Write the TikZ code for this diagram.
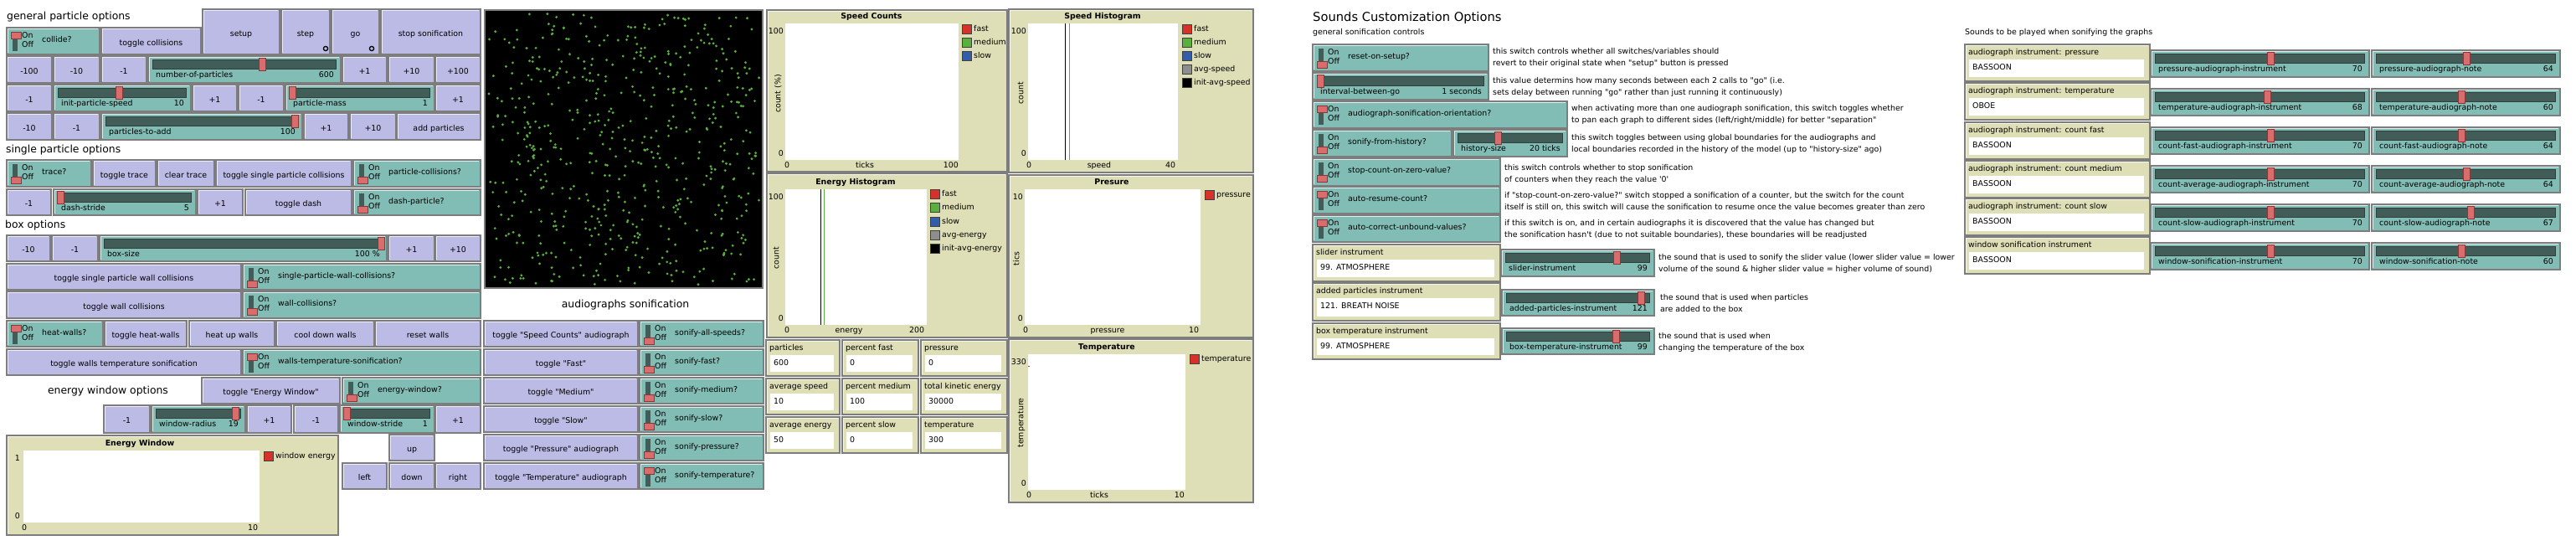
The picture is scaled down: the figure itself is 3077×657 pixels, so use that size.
\documentclass[tikz,border=0pt]{standalone}
\usepackage{fontspec}
\newfontfamily\nlfont{DejaVu Sans}

\definecolor{nlbutton}{RGB}{187,187,230}
\definecolor{nlswitch}{RGB}{130,189,181}
\definecolor{nltrack}{RGB}{66,92,88}
\definecolor{nlknob}{RGB}{217,108,108}
\definecolor{nlknobedge}{RGB}{140,55,55}
\definecolor{nlmonitor}{RGB}{223,223,183}
\definecolor{nledge}{RGB}{125,125,125}
\definecolor{nlgreen}{RGB}{89,176,60}
\definecolor{nlred}{RGB}{215,50,41}
\definecolor{nlblue}{RGB}{52,93,169}
\definecolor{nlgray}{RGB}{141,141,141}

\tikzset{
  widget/.style={rectangle, draw=nledge, line width=1.2pt, inner sep=0pt},
  nlbtn/.style={widget, fill=nlbutton},
  nlsw/.style={widget, fill=nlswitch},
  nlmon/.style={widget, fill=nlmonitor},
  nlbevel/.style={white, opacity=0.75, line width=0.9pt},
  nltext/.style={font=\nlfont\fontsize{9.4}{11}\selectfont, inner sep=0pt, text height=6.8pt, text depth=1.9pt},
  nltitle/.style={nltext, font=\nlfont\bfseries\fontsize{9.4}{11}\selectfont},
  nlsection/.style={font=\nlfont\fontsize{12.4}{14}\selectfont, inner sep=0pt},
  nlbig/.style={font=\nlfont\fontsize{14.7}{17}\selectfont, inner sep=0pt},
  knob/.style={fill=nlknob, draw=nlknobedge, line width=0.7pt},
  track/.style={fill=nltrack, draw=nltrack!70!black, line width=0.7pt},
  particle/.style={fill=nlgreen}
}

% widgets: name, x0, y0, x1, y1, ...
\newcommand{\nlframe}[6]{%
  \node[#2, minimum width={(#5-#3)*1pt}, minimum height={(#6-#4)*1pt}] (#1) at ({(#3+#5)/2},{(#4+#6)/2}) {};
  \draw[nlbevel] (#3+1.6,#6-1.6) -- (#3+1.6,#4+1.6) -- (#5-1.6,#4+1.6);}

\newcommand{\nlbutton}[6]{%
  \nlframe{#1}{nlbtn}{#2}{#3}{#4}{#5}
  \node[nltext] (#1-lbl) at ([yshift=-3pt]#1.center) {#6};}

\newcommand{\nlswitch}[7]{%
  \nlframe{#1}{nlsw}{#2}{#3}{#4}{#5}
  \fill[nltrack] (#2+7,#3+5) rectangle (#2+13,#3+28);
  \ifnum#7=1
    \draw[knob] (#2+5,#3+5) rectangle (#2+17,#3+13);
  \else
    \draw[knob] (#2+5,#3+20) rectangle (#2+17,#3+28);
  \fi
  \node[nltext, anchor=west] (#1-on) at (#2+18,#3+10) {On};
  \node[nltext, anchor=west] (#1-off) at (#2+18,#3+21) {Off};
  \node[nltext, anchor=west] (#1-lbl) at (#2+42,#3+15) {#6};}

\newcommand{\nlslider}[8]{%
  \nlframe{#1}{nlsw}{#2}{#3}{#4}{#5}
  \draw[track] (#2+5,#3+4) rectangle (#4-6,#3+15);
  \draw[knob] (#8-4,#3+2) rectangle (#8+4,#3+17);
  \node[nltext, anchor=west] (#1-lbl) at (#2+9,#3+23) {#6};
  \node[nltext, anchor=east] (#1-val) at (#4-8,#3+23) {#7};}

\newcommand{\nlmonitor}[7]{%
  \nlframe{#1}{nlmon}{#2}{#3}{#4}{#5}
  \fill[white] (#2+5,#3+18) rectangle (#4-7,#5-5);
  \node[nltext, anchor=west] (#1-lbl) at (#2+4,#3+10) {#6};
  \node[nltext, anchor=west] (#1-val) at (#2+9,#3+28) {#7};}

\newcommand{\nlplot}[9]{%
  \nlframe{#1}{nlmon}{#2}{#3}{#4}{#5}
  \fill[white] (#6,#7) rectangle (#8,#9);}

\newcommand{\nlkey}[5]{%
  \draw[fill=#4, draw=black!75, line width=0.8pt] (#2,#3-5.5) rectangle (#2+11,#3+5.5);
  \node[nltext, anchor=west] (#1) at (#2+14,#3) {#5};}

\newcommand{\nlnote}[5]{%
  \node[nltext, anchor=west] (#1a) at (#2,#3) {#4};
  \node[nltext, anchor=west] (#1b) at (#2,#3+14) {#5};}

\begin{document}
\begin{tikzpicture}[x=1pt, y=-1pt]
\useasboundingbox (0,0) rectangle (3077,657);

% General particle options
\node[nlsection, anchor=west] (secgen) at (8,20) {general particle options};
\nlswitch{collide}{8}{33}{119}{65}{collide?}{1}
\nlbutton{togcol}{121}{33}{240}{65}{toggle collisions}
\nlbutton{setup}{242}{11}{334}{65}{setup}
\nlbutton{step}{336}{11}{394}{65}{step}
\nlbutton{go}{396}{11}{453}{65}{go}
\nlbutton{stopson}{455}{11}{574}{65}{stop sonification}
\draw[line width=1.3pt] (389,58) circle (2.6pt);
\draw[line width=1.3pt] (444,58) circle (2.6pt);

\nlbutton{npm100}{8}{67}{62}{99}{-100}
\nlbutton{npm10}{64}{67}{119}{99}{-10}
\nlbutton{npm1}{121}{67}{175}{99}{-1}
\nlslider{numpart}{177}{67}{407}{99}{number-of-particles}{600}{313}
\nlbutton{npp1}{409}{67}{462}{99}{+1}
\nlbutton{npp10}{464}{67}{519}{99}{+10}
\nlbutton{npp100}{520}{67}{574}{99}{+100}

\nlbutton{spm1}{8}{101}{62}{133}{-1}
\nlslider{initspeed}{64}{101}{228}{133}{init-particle-speed}{10}{142}
\nlbutton{spp1}{230}{101}{283}{133}{+1}
\nlbutton{pmm1}{285}{101}{339}{133}{-1}
\nlslider{pmass}{341}{101}{519}{133}{particle-mass}{1}{349}
\nlbutton{pmp1}{520}{101}{574}{133}{+1}

\nlbutton{pam10}{8}{135}{62}{167}{-10}
\nlbutton{pam1}{64}{135}{119}{167}{-1}
\nlslider{partadd}{121}{135}{361}{167}{particles-to-add}{100}{352}
\nlbutton{pap1}{363}{135}{416}{167}{+1}
\nlbutton{pap10}{418}{135}{473}{167}{+10}
\nlbutton{addpart}{474}{135}{574}{167}{add particles}

% Single particle options
\node[nlsection, anchor=west] (secsingle) at (7,179) {single particle options};
\nlswitch{trace}{8}{191}{109}{223}{trace?}{0}
\nlbutton{togtrace}{111}{191}{186}{223}{toggle trace}
\nlbutton{cleartrace}{188}{191}{256}{223}{clear trace}
\nlbutton{togspcol}{258}{191}{420}{223}{toggle single particle collisions}
\nlswitch{pcol}{422}{191}{574}{223}{particle-collisions?}{0}

\nlbutton{dsm1}{8}{226}{61}{257}{-1}
\nlslider{dstride}{64}{226}{234}{257}{dash-stride}{5}{72}
\nlbutton{dsp1}{236}{226}{290}{257}{+1}
\nlbutton{togdash}{293}{226}{420}{257}{toggle dash}
\nlswitch{dashp}{422}{226}{574}{257}{dash-particle?}{0}

% Box options
\node[nlsection, anchor=west] (secbox) at (6,269) {box options};
\nlbutton{bsm10}{8}{281}{60}{312}{-10}
\nlbutton{bsm1}{62}{281}{117}{312}{-1}
\nlslider{boxsize}{119}{281}{462}{312}{box-size}{100 \%}{455}
\nlbutton{bsp1}{464}{281}{519}{312}{+1}
\nlbutton{bsp10}{520}{281}{574}{312}{+10}

\nlbutton{togspw}{8}{315}{288}{346}{toggle single particle wall collisions}
\nlswitch{spwall}{290}{315}{574}{346}{single-particle-wall-collisions?}{0}
\nlbutton{togwall}{8}{348}{288}{380}{toggle wall collisions}
\nlswitch{wall}{290}{348}{574}{380}{wall-collisions?}{0}

\nlswitch{heat}{8}{383}{123}{414}{heat-walls?}{1}
\nlbutton{togheat}{125}{383}{223}{414}{toggle heat-walls}
\nlbutton{heatup}{226}{383}{328}{414}{heat up walls}
\nlbutton{cooldown}{330}{383}{447}{414}{cool down walls}
\nlbutton{resetw}{448}{383}{574}{414}{reset walls}

\nlbutton{togwts}{8}{417}{288}{448}{toggle walls temperature sonification}
\nlswitch{wts}{290}{417}{574}{448}{walls-temperature-sonification?}{1}

% Energy window options
\node[nlsection] (secwin) at (129,467) {energy window options};
\nlbutton{togwin}{241}{451}{406}{482}{toggle "Energy Window"}
\nlswitch{ewin}{409}{451}{574}{482}{energy-window?}{0}
\nlbutton{wrm1}{124}{484}{179}{517}{-1}
\nlslider{wradius}{181}{484}{293}{517}{window-radius}{19}{281}
\nlbutton{wrp1}{295}{484}{348}{517}{+1}
\nlbutton{wsm1}{351}{484}{404}{517}{-1}
\nlslider{wstride}{406}{484}{519}{517}{window-stride}{1}{414}
\nlbutton{wsp1}{520}{484}{574}{517}{+1}
\nlbutton{wup}{465}{519}{519}{550}{up}
\nlbutton{wleft}{409}{553}{462}{584}{left}
\nlbutton{wdown}{465}{553}{519}{584}{down}
\nlbutton{wright}{520}{553}{574}{584}{right}

\nlplot{ewplot}{8}{520}{404}{639}{28}{538}{310}{624}
\node[nltitle] (ewtitle) at (167,530) {Energy Window};
\node[nltext, anchor=east] (ewy1) at (24,548) {1};
\node[nltext, anchor=east] (ewy0) at (24,617) {0};
\node[nltext] (ewx0) at (29,631) {0};
\node[nltext] (ewx1) at (302,631) {10};
\nlkey{ewkey}{315}{545}{nlred}{window energy}

% World view
\draw[draw=nledge, line width=2pt, fill=black] (579,12) rectangle (911,344);
\pgfmathsetseed{2024}
\foreach \k in {1,...,600}{
  \pgfmathsetmacro{\px}{583+324*rnd}
  \pgfmathsetmacro{\py}{16+324*rnd}
  \fill[particle] (\px,\py) circle (1.6pt);
}

% Audiographs sonification
\node[nlsection] (secaudio) at (747,364) {audiographs sonification};
\foreach \y/\t/\s/\o in {383/toggle "Speed Counts" audiograph/sonify-all-speeds?/0,
    417/toggle "Fast"/sonify-fast?/0, 451/toggle "Medium"/sonify-medium?/0,
    485/toggle "Slow"/sonify-slow?/0, 519/toggle "Pressure" audiograph/sonify-pressure?/0,
    553/toggle "Temperature" audiograph/sonify-temperature?/1}{
  \nlbutton{ab\y}{578}{\y}{762}{\y+31}{\t}
  \nlswitch{as\y}{764}{\y}{912}{\y+31}{\s}{\o}
}

% Plots
\nlplot{scplot}{916}{12}{1203}{205}{938}{28}{1145}{191}
\node[nltitle] (sctitle) at (1041,20) {Speed Counts};
\node[nltext, anchor=east] (scy1) at (936,38) {100};
\node[nltext, anchor=east] (scy0) at (936,184) {0};
\node[nltext, rotate=90] (scylab) at (930,112) {count (\%)};
\node[nltext] (scx0) at (940,198) {0};
\node[nltext] (scxlab) at (1033,198) {ticks};
\node[nltext, anchor=east] (scx1) at (1145,198) {100};
\nlkey{sck1}{1149}{35}{nlred}{fast}
\nlkey{sck2}{1149}{51}{nlgreen}{medium}
\nlkey{sck3}{1149}{67}{nlblue}{slow}

\nlplot{ehplot}{916}{207}{1203}{403}{938}{226}{1107}{388}
\node[nltitle] (ehtitle) at (1022,218) {Energy Histogram};
\node[nltext, anchor=east] (ehy1) at (936,236) {100};
\node[nltext, anchor=east] (ehy0) at (936,381) {0};
\node[nltext, rotate=90] (ehylab) at (928,308) {count};
\node[nltext] (ehx0) at (940,395) {0};
\node[nltext] (ehxlab) at (1014,395) {energy};
\node[nltext] (ehx1) at (1095,395) {200};
\draw[black, line width=0.8pt] (980,226) -- (980,388);
\draw[nlgreen, line width=0.8pt] (984,226) -- (984,388);
\nlkey{ehk1}{1111}{232}{nlred}{fast}
\nlkey{ehk2}{1111}{248}{nlgreen}{medium}
\nlkey{ehk3}{1111}{265}{nlblue}{slow}
\nlkey{ehk4}{1111}{281}{nlgray}{avg-energy}
\nlkey{ehk5}{1111}{297}{black}{init-avg-energy}

\nlplot{shplot}{1205}{11}{1497}{206}{1228}{28}{1407}{191}
\node[nltitle] (shtitle) at (1317,20) {Speed Histogram};
\node[nltext, anchor=east] (shy1) at (1226,38) {100};
\node[nltext, anchor=east] (shy0) at (1226,184) {0};
\node[nltext, rotate=90] (shylab) at (1220,111) {count};
\node[nltext] (shx0) at (1229,198) {0};
\node[nltext] (shxlab) at (1313,198) {speed};
\node[nltext] (shx1) at (1398,198) {40};
\draw[black, line width=0.8pt] (1272,28) -- (1272,191);
\draw[nlgreen, line width=0.8pt] (1277,28) -- (1277,191);
\nlkey{shk1}{1412}{35}{nlred}{fast}
\nlkey{shk2}{1412}{51}{nlgreen}{medium}
\nlkey{shk3}{1412}{67}{nlblue}{slow}
\nlkey{shk4}{1412}{83}{nlgray}{avg-speed}
\nlkey{shk5}{1412}{99}{black}{init-avg-speed}

\nlplot{prplot}{1205}{209}{1497}{403}{1224}{226}{1434}{388}
\node[nltitle] (prtitle) at (1328,218) {Presure};
\node[nltext, anchor=east] (pry1) at (1222,236) {10};
\node[nltext, anchor=east] (pry0) at (1222,381) {0};
\node[nltext, rotate=90] (prylab) at (1215,309) {tics};
\node[nltext] (prx0) at (1225,395) {0};
\node[nltext] (prxlab) at (1323,395) {pressure};
\node[nltext] (prx1) at (1426,395) {10};
\nlkey{prk1}{1439}{233}{nlred}{pressure}

\nlplot{tpplot}{1205}{405}{1497}{600}{1228}{423}{1416}{585}
\node[nltitle] (tptitle) at (1322,415) {Temperature};
\node[nltext, anchor=east] (tpy1) at (1226,433) {330};
\node[nltext, anchor=east] (tpy0) at (1226,578) {0};
\node[nltext, rotate=90] (tpylab) at (1220,505) {temperature};
\node[nltext] (tpx0) at (1229,592) {0};
\node[nltext] (tpxlab) at (1313,592) {ticks};
\node[nltext, anchor=east] (tpx1) at (1415,592) {10};
\fill[nlred] (1228,436.5) rectangle (1230,438);
\nlkey{tpk1}{1421}{429}{nlred}{temperature}

% Monitors
\nlmonitor{mpart}{915}{406}{1003}{449}{particles}{600}
\nlmonitor{mspeed}{915}{452}{1003}{495}{average speed}{10}
\nlmonitor{menergy}{915}{498}{1003}{541}{average energy}{50}
\nlmonitor{mfast}{1006}{406}{1097}{449}{percent fast}{0}
\nlmonitor{mmed}{1006}{452}{1097}{495}{percent medium}{100}
\nlmonitor{mslow}{1006}{498}{1097}{541}{percent slow}{0}
\nlmonitor{mpress}{1100}{406}{1203}{449}{pressure}{0}
\nlmonitor{mke}{1100}{452}{1203}{495}{total kinetic energy}{30000}
\nlmonitor{mtemp}{1100}{498}{1203}{541}{temperature}{300}

% Sounds customization options
\node[nlbig, anchor=west] (sndtitle) at (1568,21) {Sounds Customization Options};
\node[nltext, anchor=west] (sndsub) at (1568,39) {general sonification controls};
\nlswitch{reset}{1568}{53}{1778}{85}{reset-on-setup?}{0}
\nlslider{interval}{1568}{87}{1778}{119}{interval-between-go}{1 seconds}{1577}
\nlswitch{orient}{1568}{121}{1872}{153}{audiograph-sonification-orientation?}{1}
\nlswitch{fromhist}{1568}{155}{1734}{187}{sonify-from-history?}{0}
\nlslider{histsize}{1736}{155}{1872}{187}{history-size}{20 ticks}{1789}
\nlswitch{stopzero}{1568}{189}{1792}{222}{stop-count-on-zero-value?}{0}
\nlswitch{autoresume}{1568}{223}{1792}{255}{auto-resume-count?}{1}
\nlswitch{autocorrect}{1568}{257}{1792}{289}{auto-correct-unbound-values?}{1}
\nlmonitor{slinst}{1568}{292}{1792}{336}{slider instrument}{99. ATMOSPHERE}
\nlslider{slinstsl}{1793}{298}{1976}{330}{slider-instrument}{99}{1931}
\nlmonitor{apinst}{1568}{338}{1792}{383}{added particles instrument}{121. BREATH NOISE}
\nlslider{apinstsl}{1794}{346}{1976}{377}{added-particles-instrument}{121}{1960}
\nlmonitor{btinst}{1568}{386}{1792}{429}{box temperature instrument}{99. ATMOSPHERE}
\nlslider{btinstsl}{1794}{392}{1976}{423}{box-temperature-instrument}{99}{1930}

\nlnote{n1}{1783}{62}{this switch controls whether all switches/variables should}{revert to their original state when "setup" button is pressed}
\nlnote{n2}{1783}{97}{this value determins how many seconds between each 2 calls to "go" (i.e.}{sets delay between running "go" rather than just running it continuously)}
\nlnote{n3}{1877}{130}{when activating more than one audiograph sonification, this switch toggles whether}{to pan each graph to different sides (left/right/middle) for better "separation"}
\nlnote{n4}{1877}{165}{this switch toggles between using global boundaries for the audiographs and}{local boundaries recorded in the history of the model (up to "history-size" ago)}
\nlnote{n5}{1797}{201}{this switch controls whether to stop sonification}{of counters when they reach the value '0'}
\nlnote{n6}{1797}{234}{if "stop-count-on-zero-value?" switch stopped a sonification of a counter, but the switch for the count}{itself is still on, this switch will cause the sonification to resume once the value becomes greater than zero}
\nlnote{n7}{1797}{267}{if this switch is on, and in certain audiographs it is discovered that the value has changed but}{the sonification hasn't (due to not suitable boundaries), these boundaries will be readjusted}
\nlnote{n8}{1981}{308}{the sound that is used to sonify the slider value (lower slider value = lower}{volume of the sound \& higher slider value = higher volume of sound)}
\nlnote{n9}{1983}{356}{the sound that is used when particles}{are added to the box}
\nlnote{n10}{1981}{402}{the sound that is used when}{changing the temperature of the box}

% Sounds to be played when sonifying the graphs
\node[nltext, anchor=west] (graphsnd) at (2347,39) {Sounds to be played when sonifying the graphs};
\foreach \my/\sy/\lab/\val/\iname/\iv/\ih/\nname/\nv/\nh in {
    53/60/audiograph instrument: pressure/BASSOON/pressure-audiograph-instrument/70/2712/pressure-audiograph-note/64/2946,
    99/106/audiograph instrument: temperature/OBOE/temperature-audiograph-instrument/68/2708/temperature-audiograph-note/60/2940,
    146/152/audiograph instrument: count fast/BASSOON/count-fast-audiograph-instrument/70/2712/count-fast-audiograph-note/64/2940,
    192/198/audiograph instrument: count medium/BASSOON/count-average-audiograph-instrument/70/2712/count-average-audiograph-note/64/2946,
    237/244/audiograph instrument: count slow/BASSOON/count-slow-audiograph-instrument/70/2712/count-slow-audiograph-note/67/2951,
    283/290/window sonification instrument/BASSOON/window-sonification-instrument/70/2712/window-sonification-note/60/2940}{
  \nlmonitor{rm\my}{2347}{\my}{2568}{\my+44}{\lab}{\val}
  \nlslider{ri\my}{2569}{\sy}{2830}{\sy+32}{\iname}{\iv}{\ih}
  \nlslider{rn\my}{2833}{\sy}{3058}{\sy+32}{\nname}{\nv}{\nh}
}

\end{tikzpicture}
\end{document}
